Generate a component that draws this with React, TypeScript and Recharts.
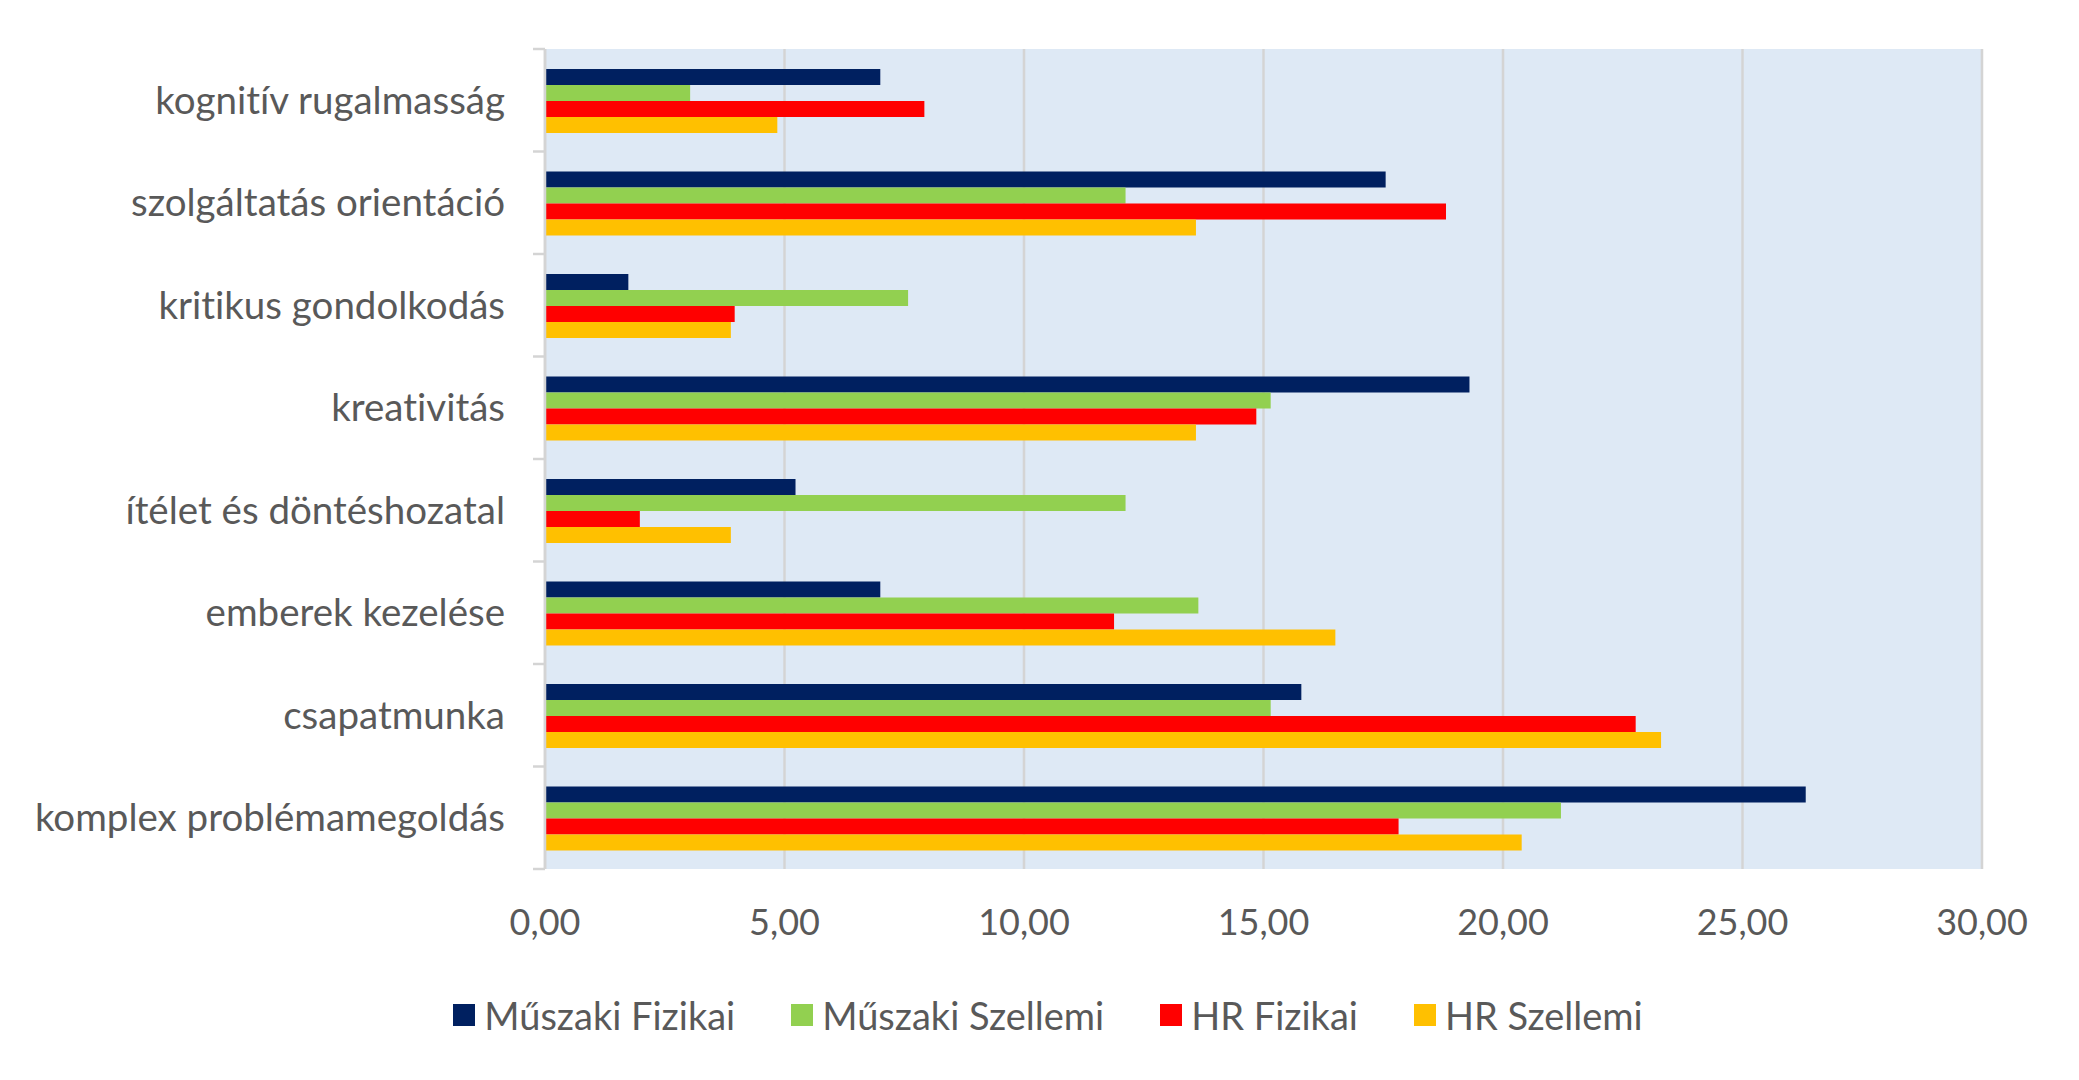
import { Bar, BarChart, CartesianGrid, Legend, XAxis, YAxis } from "recharts";

const categories = [
  "kognitív rugalmasság",
  "szolgáltatás orientáció",
  "kritikus gondolkodás",
  "kreativitás",
  "ítélet és döntéshozatal",
  "emberek kezelése",
  "csapatmunka",
  "komplex problémamegoldás",
];

const muszakiFizikai = [7.0, 17.55, 1.74, 19.3, 5.23, 7.0, 15.79, 26.32];
const muszakiSzellemi = [3.03, 12.12, 7.58, 15.15, 12.12, 13.64, 15.15, 21.21];
const hrFizikai = [7.92, 18.81, 3.96, 14.85, 1.98, 11.88, 22.77, 17.82];
const hrSzellemi = [4.85, 13.59, 3.88, 13.59, 3.88, 16.5, 23.3, 20.39];

const xTicks = [0, 5, 10, 15, 20, 25, 30];

const SERIES = [
  { key: "mf", name: "Műszaki Fizikai", color: "#002060", values: muszakiFizikai },
  { key: "msz", name: "Műszaki Szellemi", color: "#92D050", values: muszakiSzellemi },
  { key: "hf", name: "HR Fizikai", color: "#FF0000", values: hrFizikai },
  { key: "hsz", name: "HR Szellemi", color: "#FFC000", values: hrSzellemi },
];

const data = categories.map((name, i) => {
  const row: Record<string, string | number> = { name };
  SERIES.forEach((s) => (row[s.key] = s.values[i]));
  return row;
});

const W = 2079;
const H = 1080;
const FONT = "Lato, 'Open Sans', sans-serif";
const TEXT = "#595959";
const GRID = "#D4D4D4";
const PLOT_TOP = 49;
const PLOT_BOTTOM = 869;
const BAND = (PLOT_BOTTOM - PLOT_TOP) / categories.length;

const fmt = (v: number) => v.toFixed(2).replace(".", ",");

function CategoryTick(props: any) {
  const { x, y, payload, index } = props;
  const lx2 = x + 40;
  const lx1 = x + 28;
  return (
    <g>
      <line x1={lx1} x2={lx2} y1={y - BAND / 2} y2={y - BAND / 2} stroke={GRID} strokeWidth={2.5} />
      {index === categories.length - 1 ? (
        <line x1={lx1} x2={lx2} y1={y + BAND / 2} y2={y + BAND / 2} stroke={GRID} strokeWidth={2.5} />
      ) : null}
      <text
        x={x}
        y={y}
        dy="0.35em"
        textAnchor="end"
        fill={TEXT}
        fontSize={38.5}
        fontFamily={FONT}
        style={{ fontVariantLigatures: "none" }}
      >
        {payload.value}
      </text>
    </g>
  );
}

function LegendContent({ payload }: any) {
  const items = SERIES.map((s) => (payload || []).find((p: any) => p.value === s.name)).filter(Boolean);
  return (
    <div
      style={{
        display: "flex",
        justifyContent: "center",
        gap: 56,
        fontFamily: FONT,
        paddingLeft: 114,
      }}
    >
      {items.map((p: any) => (
        <div key={p.value} style={{ display: "flex", alignItems: "center", gap: 9 }}>
          <span style={{ width: 22, height: 22, background: p.color, display: "inline-block" }} />
          <span style={{ fontSize: 38, color: TEXT, fontVariantLigatures: "none" }}>{p.value}</span>
        </div>
      ))}
    </div>
  );
}

export default function App() {
  return (
    <div style={{ width: W, height: H, background: "#fff" }}>
      <style>{"body{margin:0}"}</style>
      <BarChart
        width={W}
        height={H}
        data={data}
        layout="vertical"
        margin={{ top: PLOT_TOP, right: 97, bottom: 38, left: 0 }}
        barCategoryGap={20}
        barGap={0}
      >
        <CartesianGrid horizontal={false} fill="#DEE9F5" stroke={GRID} strokeWidth={2.5} />
        <XAxis
          type="number"
          domain={[0, 30]}
          ticks={xTicks}
          tickFormatter={fmt}
          axisLine={false}
          tickLine={false}
          tickMargin={34}
          height={123}
          tick={{ fill: TEXT, fontSize: 36, fontFamily: FONT }}
        />
        <YAxis
          type="category"
          dataKey="name"
          width={545}
          axisLine={{ stroke: GRID, strokeWidth: 2.5 }}
          tickLine={false}
          tickSize={12}
          tickMargin={28}
          tick={<CategoryTick />}
        />
        <Legend verticalAlign="bottom" height={50} content={<LegendContent />} />
        {SERIES.map((s) => (
          <Bar key={s.key} dataKey={s.key} name={s.name} fill={s.color} isAnimationActive={false} />
        ))}
      </BarChart>
    </div>
  );
}
